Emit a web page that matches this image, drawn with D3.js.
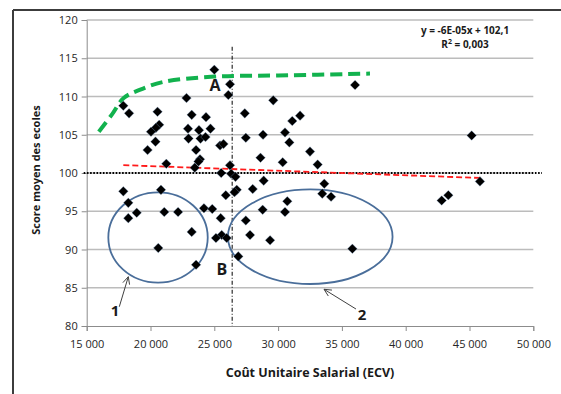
<!DOCTYPE html>
<html>
<head>
<meta charset="utf-8">
<script src="https://cdn.jsdelivr.net/npm/d3@7"></script>
<style>
  html, body { margin: 0; padding: 0; background: #fff; }
  svg { display: block; font-family: "Open Sans", "Liberation Sans", sans-serif; }
</style>
</head>
<body>
<svg id="chart" width="561" height="394"></svg>
<script>
// Coût unitaire salarial (x) vs score moyen (y), one entry per école
const coutSalarial = [
  17870, 18320, 25000, 26230, 26100, 22820, 29620, 36030, 20550, 23230,
  24350, 27390, 20680, 20420, 20040, 22940, 23800, 24700, 22980, 23920,
  24310, 27470, 28820, 30540, 31720, 31110, 30880, 20390, 19770, 23570,
  25450, 25720, 32500, 28620, 30360, 33100, 23880, 23760, 21240, 23470,
  26230, 25540, 26320, 26660, 28870, 17870, 20820, 18260, 18920, 18260,
  21080, 22160, 24190, 24840, 25500, 27470, 26760, 26580, 28010, 25900,
  33620, 33460, 34150, 30720, 28790, 30540, 23230, 25580, 25130, 25970,
  27800, 29370, 20610, 35820, 23570, 26880, 45170, 45820, 43340, 42820
];
const scoreMoyen = [
  108.8, 107.8, 113.5, 111.6, 110.2, 109.8, 109.5, 111.5, 108.0, 107.6,
  107.3, 107.8, 106.3, 105.9, 105.4, 105.8, 105.6, 105.8, 104.5, 104.5,
  104.7, 104.6, 105.0, 105.3, 107.5, 106.8, 104.0, 104.1, 103.0, 103.0,
  103.6, 103.8, 102.8, 102.0, 101.4, 101.1, 101.8, 101.5, 101.2, 100.7,
  101.0, 100.0, 99.9, 99.5, 99.0, 97.6, 97.8, 96.1, 94.8, 94.1,
  94.9, 94.9, 95.4, 95.3, 94.1, 93.8, 97.8, 97.5, 97.9, 97.1,
  98.6, 97.3, 96.9, 96.3, 95.2, 94.9, 92.3, 91.9, 91.5, 91.5,
  91.9, 91.2, 90.2, 90.1, 88.0, 89.1, 104.9, 98.9, 97.1, 96.4
];

// Axis ticks
const xTicks = [15000, 20000, 25000, 30000, 35000, 40000, 45000, 50000];
const yTicks = [80, 85, 90, 95, 100, 105, 110, 115, 120];

// Linear trend: y = -6E-05x + 102,1
const trendSlope = -0.00006;
const trendIntercept = 102.1;

// Reference levels
const refScore = 100;
const refCout = 26400;
const refCoutTop = 116.5;

// Hand-drawn upper envelope (green dashed)
const enveloppeX = [15950, 17000, 17900, 19200, 21000, 25000, 30000, 37200];
const enveloppeY = [105.4, 107.7, 109.8, 110.9, 111.9, 112.6, 112.75, 113.0];

// Groups circled on the chart: centre and half-extents in data units
const groupes = [
  { cx: 20590, cy: 91.57, rx: 3895, ry: 5.91 },
  { cx: 32520, cy: 91.67, rx: 6450, ry: 6.18 }
];

const svg = d3.select("#chart");
const plotLeft = 86.7, plotRight = 533.3, plotTop = 20, plotBottom = 326;

const x = d3.scaleLinear().domain([15000, 50000]).range([plotLeft, plotRight]);
const y = d3.scaleLinear().domain([80, 120]).range([plotBottom, plotTop]);

// Outer frame (top and left edges)
svg.append("line").attr("x1", 13).attr("x2", 561).attr("y1", 10).attr("y2", 10)
  .attr("stroke", "#3c3c3c").attr("stroke-width", 2);
svg.append("line").attr("x1", 13).attr("x2", 13).attr("y1", 10).attr("y2", 394)
  .attr("stroke", "#3c3c3c").attr("stroke-width", 2);

// Horizontal gridlines
svg.append("g").selectAll("line").data(yTicks.filter(v => v > 80)).join("line")
  .attr("x1", plotLeft).attr("x2", plotRight)
  .attr("y1", d => y(d)).attr("y2", d => y(d))
  .attr("stroke", "#bcbcbc").attr("stroke-width", 1.5);

const fmt = v => d3.format(",")(v).replace(/,/g, "\u00a0");

// Y axis
const yAxis = svg.append("g").attr("transform", `translate(${plotLeft},0)`)
  .call(d3.axisLeft(y).tickValues(yTicks).tickSize(5).tickPadding(4));
// X axis
const xAxis = svg.append("g").attr("transform", `translate(0,${plotBottom})`)
  .call(d3.axisBottom(x).tickValues(xTicks).tickSize(5).tickPadding(9).tickFormat(fmt));
[yAxis, xAxis].forEach(a => {
  a.select(".domain").attr("stroke", "#8c8c8c").attr("stroke-width", 1);
  a.selectAll(".tick line").attr("stroke", "#8c8c8c");
  a.selectAll(".tick text").attr("fill", "#262626").attr("font-size", 11)
    .attr("font-family", "'Open Sans', sans-serif");
});

// Axis titles
svg.append("text").attr("transform", "translate(40,170) rotate(-90)")
  .attr("text-anchor", "middle").attr("font-size", 11).attr("font-weight", "bold")
  .attr("fill", "#1a1a1a").text("Score moyen des ecoles");
svg.append("text").attr("x", 310).attr("y", 377)
  .attr("text-anchor", "middle").attr("font-size", 12.5).attr("font-weight", "bold")
  .attr("fill", "#1a1a1a").text("Coût Unitaire Salarial (ECV)");

// Reference lines
svg.append("line").attr("x1", plotLeft - 3).attr("x2", 542)
  .attr("y1", y(refScore)).attr("y2", y(refScore))
  .attr("stroke", "#000").attr("stroke-width", 1.8).attr("stroke-dasharray", "1.6,1.6");
svg.append("line").attr("x1", x(refCout)).attr("x2", x(refCout))
  .attr("y1", y(refCoutTop)).attr("y2", plotBottom)
  .attr("stroke", "#000").attr("stroke-width", 1).attr("stroke-dasharray", "4,2,1,2");

// Trend line over the range of the data
const xMin = d3.min(coutSalarial), xMax = d3.max(coutSalarial);
svg.append("line")
  .attr("x1", x(xMin)).attr("y1", y(trendIntercept + trendSlope * xMin))
  .attr("x2", x(xMax)).attr("y2", y(trendIntercept + trendSlope * xMax))
  .attr("stroke", "#ff1a1a").attr("stroke-width", 1.8).attr("stroke-dasharray", "6,3");

// Green envelope
const envPts = enveloppeX.map((v, i) => [v, enveloppeY[i]]);
svg.append("path").datum(envPts)
  .attr("d", d3.line().x(d => x(d[0])).y(d => y(d[1])).curve(d3.curveCatmullRom.alpha(0.5)))
  .attr("fill", "none").attr("stroke", "#12b24e").attr("stroke-width", 4)
  .attr("stroke-dasharray", "12,6").attr("stroke-linecap", "butt");

// Group ellipses
svg.append("g").selectAll("ellipse").data(groupes).join("ellipse")
  .attr("cx", d => x(d.cx)).attr("cy", d => y(d.cy))
  .attr("rx", d => x(d.cx + d.rx) - x(d.cx)).attr("ry", d => y(d.cy - d.ry) - y(d.cy))
  .attr("fill", "none").attr("stroke", "#4a6e9a").attr("stroke-width", 1.8);

// Points: black diamonds
const pts = coutSalarial.map((v, i) => [v, scoreMoyen[i]]);
const h = 4.8;
svg.append("g").selectAll("path").data(pts).join("path")
  .attr("transform", d => `translate(${x(d[0])},${y(d[1])})`)
  .attr("d", `M0,${-h}L${h},0L0,${h}L${-h},0Z`)
  .attr("fill", "#000").attr("stroke", "#7f9fc8").attr("stroke-width", 0.6)
  .attr("stroke-opacity", 0.6);

// Annotation arrows
const arrows = [
  { from: [17555, 82.52], to: [18260, 86.44] },
  { from: [36105, 82.22], to: [33598, 84.8] }
];
arrows.forEach(a => {
  const x1 = x(a.from[0]), y1 = y(a.from[1]), x2 = x(a.to[0]), y2 = y(a.to[1]);
  const ang = Math.atan2(y2 - y1, x2 - x1);
  const L = 8, spread = 0.45;
  svg.append("line").attr("x1", x1).attr("y1", y1).attr("x2", x2).attr("y2", y2)
    .attr("stroke", "#404040").attr("stroke-width", 1);
  svg.append("path")
    .attr("d", `M${x2 - L * Math.cos(ang - spread)},${y2 - L * Math.sin(ang - spread)}L${x2},${y2}L${x2 - L * Math.cos(ang + spread)},${y2 - L * Math.sin(ang + spread)}`)
    .attr("fill", "none").attr("stroke", "#404040").attr("stroke-width", 1);
});

// Annotation letters and numbers
const notes = [
  { t: "A", v: [25055, 111.5], s: 16 },
  { t: "B", v: [25600, 87.45], s: 16 },
  { t: "1", v: [17218, 82.1], s: 15 },
  { t: "2", v: [36575, 81.57], s: 15 }
];
svg.append("g").selectAll("text").data(notes).join("text")
  .attr("x", d => x(d.v[0])).attr("y", d => y(d.v[1]))
  .attr("text-anchor", "middle").attr("dominant-baseline", "central")
  .attr("font-size", d => d.s).attr("font-weight", "bold").attr("fill", "#1a1a1a")
  .text(d => d.t);

// Trend equation
const eq = svg.append("text").attr("x", 465).attr("y", 34)
  .attr("text-anchor", "middle").attr("font-size", 10).attr("font-weight", "bold").attr("fill", "#1a1a1a");
eq.text("y = -6E-05x + 102,1");
const r2 = svg.append("text").attr("x", 465).attr("y", 48)
  .attr("text-anchor", "middle").attr("font-size", 10).attr("font-weight", "bold").attr("fill", "#1a1a1a");
r2.append("tspan").text("R");
r2.append("tspan").attr("font-size", 7).attr("dy", -4).text("2");
r2.append("tspan").attr("dy", 4).text(" = 0,003");
</script>
</body>
</html>
